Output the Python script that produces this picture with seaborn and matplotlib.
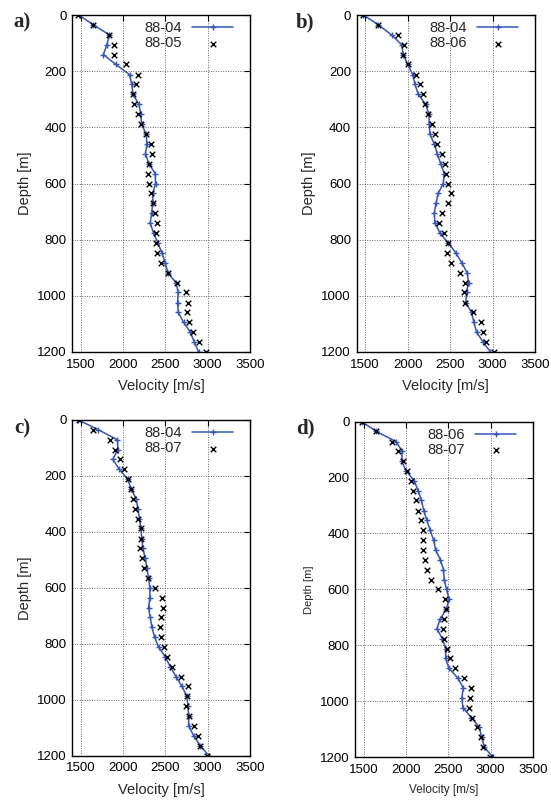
import numpy as np
import pandas as pd
import matplotlib
matplotlib.use("Agg")
import matplotlib.pyplot as plt
import seaborn as sns

depth = [0, 35, 71, 106, 141, 176, 212, 247, 282, 318, 353, 388, 424, 459, 494,
         529, 565, 600, 635, 671, 706, 741, 776, 812, 847, 882, 918, 953, 988,
         1024, 1059, 1094, 1129, 1165, 1200]

v0804_a = [1475, 1650, 1839, 1808, 1768, 1914, 2076, 2104, 2116, 2187, 2210, 2218,
           2273, 2281, 2265, 2305, 2380, 2384, 2350, 2352, 2337, 2321, 2360, 2412,
           2459, 2498, 2530, 2625, 2652, 2644, 2652, 2715, 2794, 2842, 2893]
v0805 = [1472, 1650, 1839, 1887, 1895, 2033, 2171, 2155, 2116, 2131, 2171, 2214,
         2273, 2329, 2341, 2309, 2289, 2305, 2333, 2352, 2376, 2396, 2384, 2392,
         2400, 2451, 2526, 2633, 2743, 2767, 2755, 2775, 2826, 2893, 2976]
v0804_b = [1480, 1657, 1813, 1931, 1950, 2001, 2060, 2087, 2126, 2212, 2251, 2255,
           2263, 2314, 2350, 2389, 2432, 2420, 2361, 2334, 2314, 2322, 2381, 2479,
           2569, 2636, 2702, 2718, 2694, 2686, 2753, 2780, 2812, 2890, 2976]
v0806 = [1478, 1651, 1882, 1956, 1948, 2003, 2097, 2144, 2183, 2210, 2246, 2285,
         2326, 2350, 2406, 2442, 2451, 2479, 2509, 2477, 2404, 2365, 2428, 2471,
         2467, 2506, 2614, 2677, 2659, 2673, 2772, 2868, 2892, 2927, 3023]
v0804_c = [1472, 1709, 1934, 1938, 1879, 1954, 2056, 2096, 2155, 2175, 2194, 2210,
           2222, 2234, 2262, 2281, 2301, 2317, 2317, 2301, 2321, 2341, 2372, 2419,
           2498, 2557, 2625, 2696, 2755, 2767, 2775, 2775, 2834, 2913, 3011]
v0807 = [1475, 1648, 1840, 1907, 1960, 2009, 2054, 2088, 2114, 2139, 2173, 2206,
         2206, 2200, 2221, 2249, 2296, 2383, 2459, 2473, 2452, 2438, 2444, 2487,
         2524, 2579, 2689, 2772, 2760, 2742, 2783, 2843, 2880, 2909, 2988]

panels = [
    ("a)", "88-04", v0804_a, "88-05", v0805),
    ("b)", "88-04", v0804_b, "88-06", v0806),
    ("c)", "88-04", v0804_c, "88-07", v0807),
    ("d)", "88-06", v0806, "88-07", v0807),
]

xticks = [1500, 2000, 2500, 3000, 3500]
yticks = [0, 200, 400, 600, 800, 1000, 1200]

sns.set_theme(style="white")
plt.rcParams['font.family'] = ['Liberation Sans', 'DejaVu Sans']

W, H = 551, 802
fig = plt.figure(figsize=(W / 100, H / 100), dpi=100)

rects = [
    (72.3, 15, 250, 352),
    (356.6, 15, 535, 352),
    (72.3, 420, 250, 755.5),
    (355.2, 421.7, 533, 757),
]
label_pos = [(22, 22), (305, 22), (22, 428), (305, 428)]
blue = "#3556b8"

for i, ((lab, n1, s1, n2, s2), (l, t, r, b)) in enumerate(zip(panels, rects)):
    ax = fig.add_axes([l / W, 1 - b / H, (r - l) / W, (b - t) / H])
    df1 = pd.DataFrame({"v": s1, "d": depth})
    df2 = pd.DataFrame({"v": s2, "d": depth})
    sns.lineplot(data=df1, x="v", y="d", sort=False, estimator=None, ax=ax,
                 color=blue, lw=1.1, marker="+", markersize=5,
                 markeredgewidth=1.0, markeredgecolor=blue, label=n1)
    sns.scatterplot(data=df2, x="v", y="d", ax=ax, marker="x", color="black",
                    s=16, linewidth=1.0, label=n2, zorder=3)
    ax.set_xlim(1400, 3500)
    ax.set_ylim(1200, 0)
    ax.set_xticks(xticks)
    ax.set_yticks(yticks)
    small = (i == 3)
    ax.tick_params(direction="in", length=4, width=0.8, top=True, right=True,
                   labelsize=9.5, pad=4, colors="black")
    ax.tick_params(axis="x", pad=5)
    ax.grid(True, color="#666666", linestyle=(0, (1, 1.5)), linewidth=0.7)
    for sp in ax.spines.values():
        sp.set_color("black")
        sp.set_linewidth(1.0)
    ax.set_xlabel("Velocity [m/s]", fontsize=8.5 if small else 10.5, labelpad=6)
    ax.set_ylabel("Depth [m]", fontsize=8 if small else 10.5, labelpad=4)
    axw = r - l
    axh = b - t
    leg = ax.legend(loc="upper right",
                    bbox_to_anchor=(1 - 17 / axw, 1 - 6 / axh),
                    frameon=False, markerfirst=False, fontsize=10.5,
                    handlelength=2.8, handletextpad=0.7, labelspacing=0.1,
                    borderaxespad=0, borderpad=0)
    fig.text(label_pos[i][0] / W, 1 - label_pos[i][1] / H, lab,
             fontsize=15, fontweight="bold", family="Liberation Serif",
             ha="center", va="center")

fig.savefig("out.png", dpi=100)
